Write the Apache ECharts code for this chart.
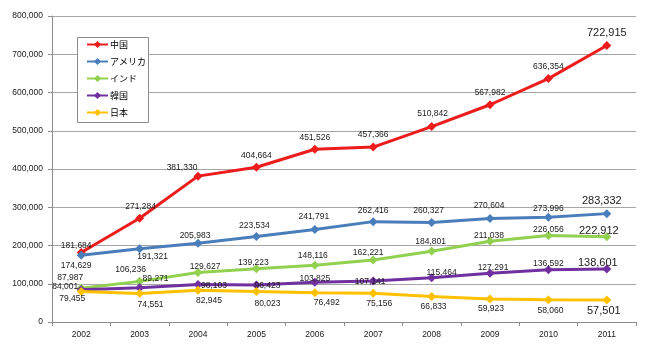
<!DOCTYPE html>
<html>
<head>
<meta charset="utf-8">
<script src="https://cdn.jsdelivr.net/npm/echarts@6/dist/echarts.min.js"></script>
<style>
  html, body { margin: 0; padding: 0; background: #fff; }
  #chart { width: 650px; height: 348px; }
</style>
</head>
<body>
<div id="chart"></div>
<script>
// Years on the category axis
const years = ['2002', '2003', '2004', '2005', '2006', '2007', '2008', '2009', '2010', '2011'];

// Series names and values
const seriesNames = ['中国', 'アメリカ', 'インド', '韓国', '日本'];
const china  = [181684, 271284, 381330, 404664, 451526, 457366, 510842, 567982, 636354, 722915];
const usa    = [174629, 191321, 205983, 223534, 241791, 262416, 260327, 270604, 273996, 283332];
const india  = [87987, 106236, 129627, 139223, 148116, 162221, 184801, 211038, 226056, 222912];
const korea  = [84001, 89271, 98103, 96423, 103825, 107141, 115464, 127291, 136592, 138601];
const japan  = [79455, 74551, 82945, 80023, 76492, 75156, 66833, 59923, 58060, 57501];

// Y axis range
const yMin = 0, yMax = 800000, yStep = 100000;

// Layout: label offsets (dx, dy) from each point, per series
const labelOffsets = [
  [[-5, -7], [1, -12], [-16, -8], [0, -12], [0, -12], [0, -12], [1, -13], [0, -12], [0, -12], [0, -13]],
  [[-5, 10], [13, 8], [-3, -8], [-2, -11], [-1, -13], [0, -11], [-3, -12], [-1, -13], [0, -9], [-5, -13]],
  [[-11, -11], [-9, -12], [7, -6], [-3, -6], [-2, -10], [-5, -7], [-1, -10], [-1, -6], [0, -6], [-8, -6]],
  [[-16, -3], [16, -9], [16, 1], [11, 1], [0, -4], [-3, 1], [10, -5], [3, -6], [0, -6], [-9, -6]],
  [[-9, 7], [11, 11], [11, 10], [11, 12], [12, 10], [6, 10], [2, 10], [1, 10], [2, 11], [-3, 11]]
];
const colors = ['#EC1C1C', '#4A7EBB', '#92D050', '#7030A0', '#FFC000'];

const fmt = v => v.toLocaleString('en-US');
const textFont = 'Liberation Sans, Arial, sans-serif';

function buildSeries(name, values, idx) {
  const last = values.length - 1;
  return {
    name: name,
    type: 'line',
    data: values.map((v, i) => ({
      value: v,
      label: {
        show: true,
        position: 'inside',
        offset: labelOffsets[idx][i],
        fontSize: i === last ? 11 : 8.5
      }
    })),
    symbol: 'diamond',
    symbolSize: 9,
    lineStyle: { width: 3, color: colors[idx] },
    itemStyle: { color: colors[idx] },
    label: {
      show: true,
      color: '#1a1a1a',
      fontFamily: textFont,
      formatter: p => fmt(p.value)
    },
    emphasis: { disabled: true },
    animation: false,
    z: 2 + idx
  };
}

const chart = echarts.init(document.getElementById('chart'), null, { renderer: 'canvas' });
chart.setOption({
  backgroundColor: '#ffffff',
  animation: false,
  grid: { left: 52, right: 14, top: 16, bottom: 26, containLabel: false },
  graphic: [{
    type: 'rect',
    shape: { x: 77.5, y: 37.5, width: 71, height: 85 },
    style: { fill: '#ffffff', stroke: '#8c8c8c', lineWidth: 1 },
    z: 50
  }],
  legend: {
    orient: 'vertical',
    left: 86,
    top: 40,
    padding: 0,
    itemWidth: 21,
    itemHeight: 9,
    itemGap: 8,
    z: 60,
    textStyle: { fontSize: 9, color: '#000', fontFamily: 'Noto Sans CJK JP, sans-serif', padding: [0, 0, 0, -3] },
    data: seriesNames
  },
  xAxis: {
    type: 'category',
    data: years,
    boundaryGap: true,
    axisLine: { lineStyle: { color: '#8c8c8c', width: 1 } },
    axisTick: { show: true, length: 4, alignWithLabel: false, lineStyle: { color: '#8c8c8c' } },
    axisLabel: { fontSize: 8.5, color: '#1a1a1a', fontFamily: textFont, margin: 8 },
    splitLine: { show: false }
  },
  yAxis: {
    type: 'value',
    min: yMin,
    max: yMax,
    interval: yStep,
    axisLine: { show: true, lineStyle: { color: '#8c8c8c', width: 1 } },
    axisTick: { show: true, length: 4, lineStyle: { color: '#8c8c8c' } },
    axisLabel: { fontSize: 8.5, color: '#1a1a1a', fontFamily: textFont, margin: 9, formatter: v => fmt(v) },
    splitLine: { show: true, lineStyle: { color: '#a6a6a6', width: 1 } }
  },
  series: [
    buildSeries(seriesNames[0], china, 0),
    buildSeries(seriesNames[1], usa, 1),
    buildSeries(seriesNames[2], india, 2),
    buildSeries(seriesNames[3], korea, 3),
    buildSeries(seriesNames[4], japan, 4)
  ]
});
</script>
</body>
</html>
